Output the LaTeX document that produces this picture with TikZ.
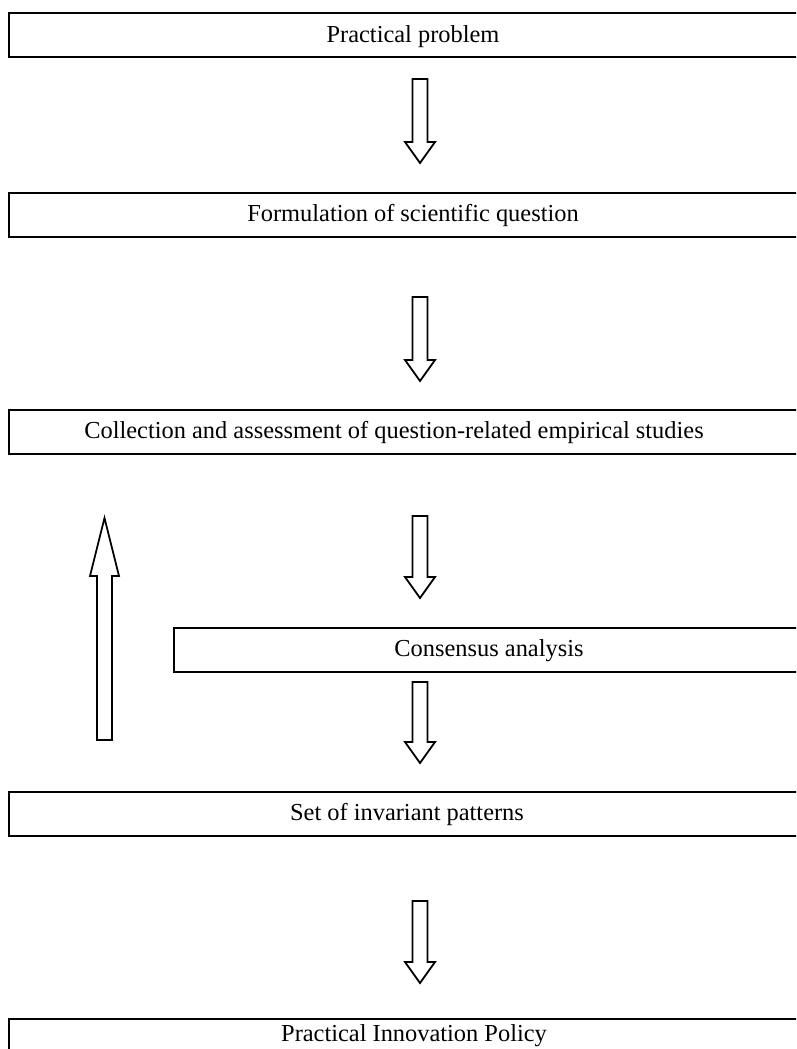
\documentclass[tikz,border=0pt]{standalone}
\usepackage{fontspec}
\setmainfont{Liberation Serif}
\begin{document}
\begin{tikzpicture}[x=1pt,y=1pt,
  box/.style={draw=black,line width=1.8pt,minimum height=44pt,inner sep=0pt,anchor=north west},
  lbl/.style={font=\fontsize{24.4}{29}\selectfont,inner sep=0pt},
  barrowline/.style={draw=black,line width=1.8pt,line join=miter,fill=white}]
\useasboundingbox (0,0) rectangle (796,-1049);
\clip (0,0) rectangle (796,-1049);
\newcommand\downarr[3]{%
  \draw[barrowline] (#1-7.5,-#2) -- (#1+7.5,-#2) -- (#1+7.5,-#3+21) -- (#1+15,-#3+21)
    -- (#1,-#3) -- (#1-15,-#3+21) -- (#1-7.5,-#3+21) -- cycle;}
% boxes
\node[box,minimum width=820pt] (b1) at (8,-12) {};
\node[lbl] (t1) at (413,-36.5) {Practical problem};
\node[box,minimum width=820pt] (b2) at (8,-192) {};
\node[lbl] (t2) at (413,-215.5) {Formulation of scientific question};
\node[box,minimum width=820pt] (b3) at (8,-409) {};
\node[lbl] (t3) at (394,-432.5) {Collection and assessment of question-related empirical studies};
\node[box,minimum width=660pt] (b4) at (173,-627) {};
\node[lbl] (t4) at (489,-650.5) {Consensus analysis};
\node[box,minimum width=820pt] (b5) at (8,-791) {};
\node[lbl] (t5) at (407,-814.5) {Set of invariant patterns};
\node[box,minimum width=820pt] (b6) at (8,-1018) {};
\node[lbl] (t6) at (414,-1036) {Practical Innovation Policy};
% down arrows
\downarr{420}{79}{163}
\downarr{420}{297}{381}
\downarr{420}{516}{598}
\downarr{420}{682}{763}
\downarr{420}{901}{983}
% up arrow
\draw[barrowline] (97,-740) -- (112,-740) -- (112,-576) -- (119,-576) -- (104.5,-518)
  -- (90,-576) -- (97,-576) -- cycle;
\end{tikzpicture}
\end{document}
